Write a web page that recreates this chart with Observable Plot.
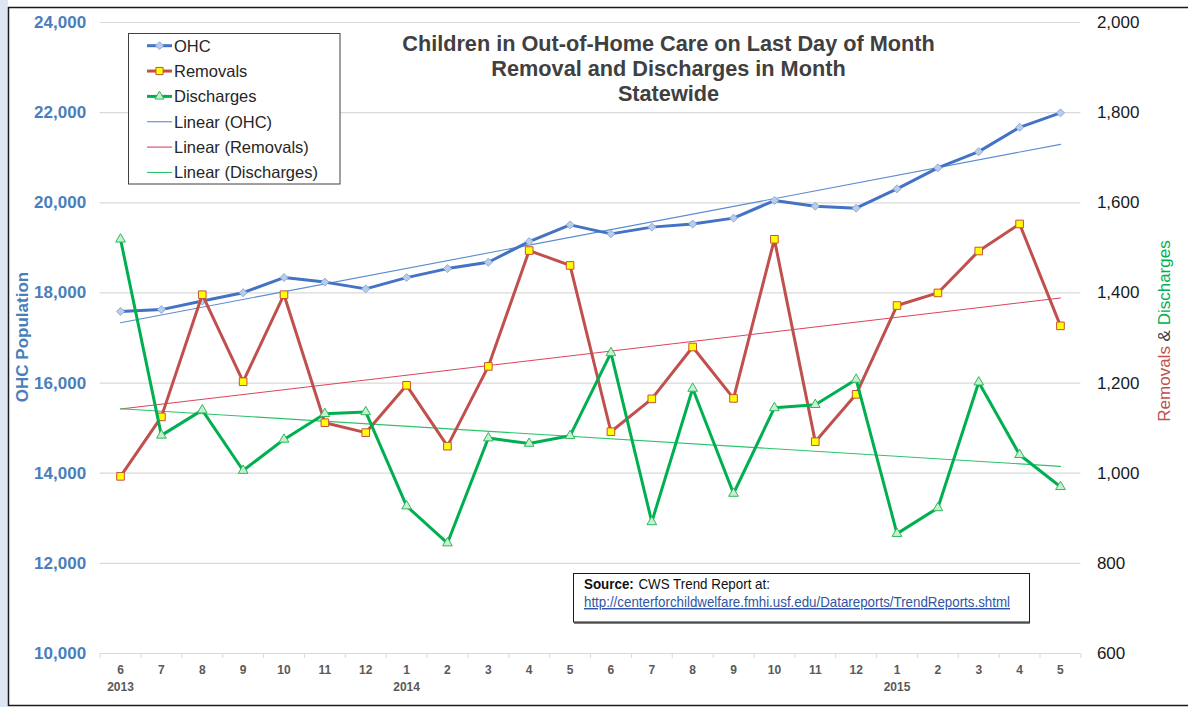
<!DOCTYPE html>
<html><head><meta charset="utf-8">
<script src="https://cdn.jsdelivr.net/npm/d3@7"></script>
<script src="https://cdn.jsdelivr.net/npm/@observablehq/plot@0.6"></script>
<style>
body{margin:0;background:#fff;}
#wrap{position:relative;width:1188px;height:707px;overflow:hidden;font-family:"Liberation Sans",Arial,sans-serif;background:#fff;}
#wrap svg{position:absolute;left:0;top:0;}
</style></head><body><div id="wrap"></div>
<script>
// ---- data ----
const months = [6,7,8,9,10,11,12,1,2,3,4,5,6,7,8,9,10,11,12,1,2,3,4,5];
const years = ["2013","","","","","","","2014","","","","","","","","","","","","2015","","","",""];
const ohc = [17590,17630,17820,18005,18340,18240,18090,18340,18540,18680,19140,19510,19310,19460,19530,19660,20050,19925,19880,20310,20775,21135,21675,21995];
const removals = [993,1125,1396,1203,1396,1112,1090,1195,1060,1237,1494,1461,1092,1165,1280,1166,1519,1070,1175,1372,1400,1493,1553,1327];
const discharges = [1519,1084,1140,1006,1075,1132,1136,927,845,1078,1066,1083,1267,892,1188,955,1145,1152,1208,866,923,1202,1041,970];
const leftTicks = [10000,12000,14000,16000,18000,20000,22000,24000];
const rightTicks = [600,800,1000,1200,1400,1600,1800,2000];
const titleLines = ["Children in Out-of-Home Care on Last Day of Month","Removal and Discharges in Month","Statewide"];
const legendItems = ["OHC","Removals","Discharges","Linear (OHC)","Linear (Removals)","Linear (Discharges)"];

// right axis (600..2000) shares the left scale (10,000..24,000)
const toLeft = v => 10000 + (v - 600) * 10;
const fromLeft = d => (d - 10000) / 10 + 600;

const rows = months.map((m, i) => ({i, ohc: ohc[i], rem: toLeft(removals[i]), dis: toLeft(discharges[i])}));
const idx = d3.range(months.length);
const bounds = d3.range(months.length + 1).map(k => k - 0.5);

const C = {
  ohc: "#4472C4", ohcFill: "#B9CDE8", ohcStroke: "#8FAADC", ohcTrend: "#5B8BD0",
  rem: "#C0504D", remFill: "#FFFF00", remStroke: "#C8503A", remTrend: "#D9455F",
  dis: "#00B050", disFill: "#C8F0D0", disStroke: "#2DB85C", disTrend: "#2CC46A"
};

const chart = Plot.plot({
  width: 1188, height: 707,
  marginLeft: 99.6, marginRight: 107.6, marginTop: 22, marginBottom: 54,
  x: {domain: [-0.5, 23.5]},
  y: {domain: [10000, 24000]},
  style: {fontFamily: '"Liberation Sans", Arial, sans-serif', background: "transparent", overflow: "visible"},
  marks: [
    Plot.gridY(leftTicks, {stroke: "#d9d9d9", strokeOpacity: 1, strokeWidth: 1.2}),
    Plot.axisX(bounds, {tickSize: 5, stroke: "#d9d9d9", strokeOpacity: 1, tickFormat: () => "", label: null}),
    Plot.axisX(idx, {tickSize: 0, tickPadding: 8, tickFormat: i => months[i] + (years[i] ? "\n" + years[i] : ""),
      fontSize: 12, fontWeight: "bold", color: "#595959", lineHeight: 1.45, label: null}),
    Plot.axisY(leftTicks, {anchor: "left", tickSize: 0, tickPadding: 14, tickFormat: d3.format(","),
      fontSize: 17, fontWeight: "bold", color: "#4A7EBB", label: null}),
    Plot.axisY(rightTicks.map(toLeft), {anchor: "right", tickSize: 0, tickPadding: 16, tickFormat: d => d3.format(",")(fromLeft(d)),
      fontSize: 17, color: "#1a1a1a", label: null}),
    Plot.linearRegressionY(rows, {x: "i", y: "ohc", stroke: C.ohcTrend, strokeWidth: 1.1, ci: 0}),
    Plot.linearRegressionY(rows, {x: "i", y: "rem", stroke: C.remTrend, strokeWidth: 1.1, ci: 0}),
    Plot.linearRegressionY(rows, {x: "i", y: "dis", stroke: C.disTrend, strokeWidth: 1.1, ci: 0}),
    Plot.line(rows, {x: "i", y: "ohc", stroke: C.ohc, strokeWidth: 3}),
    Plot.dot(rows, {x: "i", y: "ohc", symbol: "diamond2", r: 3.6, fill: C.ohcFill, stroke: C.ohcStroke, strokeWidth: 1}),
    Plot.line(rows, {x: "i", y: "rem", stroke: C.rem, strokeWidth: 3}),
    Plot.dot(rows, {x: "i", y: "rem", symbol: "square", r: 4.3, fill: C.remFill, stroke: C.remStroke, strokeWidth: 1}),
    Plot.line(rows, {x: "i", y: "dis", stroke: C.dis, strokeWidth: 3}),
    Plot.dot(rows, {x: "i", y: "dis", symbol: "triangle", r: 3.6, fill: C.disFill, stroke: C.disStroke, strokeWidth: 1})
  ]
});
const wrap = document.getElementById("wrap");
wrap.appendChild(chart);

// ---- overlay: frame, titles, legend, source box ----
const NS = "http://www.w3.org/2000/svg";
const ov = d3.select(wrap).append("svg").attr("xmlns", NS).attr("width", 1188).attr("height", 707)
  .style("font-family", '"Liberation Sans", Arial, sans-serif');

// outer frame
ov.append("rect").attr("x", 0).attr("y", 0).attr("width", 8).attr("height", 707).attr("fill", "#dde7f3");
ov.append("line").attr("x1", 8.5).attr("x2", 8.5).attr("y1", 7).attr("y2", 706).attr("stroke", "#1a1a1a").attr("stroke-width", 1.5);
ov.append("line").attr("x1", 8).attr("x2", 1188).attr("y1", 7.5).attr("y2", 7.5).attr("stroke", "#1a1a1a").attr("stroke-width", 1.5);
ov.append("line").attr("x1", 8).attr("x2", 1188).attr("y1", 705.5).attr("y2", 705.5).attr("stroke", "#1a1a1a").attr("stroke-width", 1.5);

// title
ov.append("g").selectAll("text").data(titleLines).join("text")
  .attr("x", 668.5).attr("y", (d, k) => 50.5 + k * 25)
  .attr("text-anchor", "middle").attr("font-size", 21.7).attr("font-weight", "bold").attr("fill", "#404040")
  .text(d => d);

// axis titles
ov.append("text").attr("transform", "translate(22,337) rotate(-90)")
  .attr("text-anchor", "middle").attr("dominant-baseline", "central")
  .attr("font-size", 17).attr("font-weight", "bold").attr("fill", "#4A7EBB").text("OHC Population");
const rt = ov.append("text").attr("transform", "translate(1164,331) rotate(-90)")
  .attr("text-anchor", "middle").attr("dominant-baseline", "central").attr("font-size", 17);
rt.append("tspan").attr("fill", C.rem).text("Removals ");
rt.append("tspan").attr("fill", "#404040").text("& ");
rt.append("tspan").attr("fill", C.dis).text("Discharges");

// legend
const lg = ov.append("g");
lg.append("rect").attr("x", 128.5).attr("y", 33.5).attr("width", 211.5).attr("height", 150.5)
  .attr("fill", "#fff").attr("stroke", "#404040").attr("stroke-width", 1);
const ly = k => 45.7 + k * 25.35;
const lsty = [
  {stroke: C.ohc, w: 3, sym: d3.symbolDiamond2, size: 40, fill: C.ohcFill, ms: C.ohcStroke},
  {stroke: C.rem, w: 3, sym: d3.symbolSquare, size: 52, fill: C.remFill, ms: C.remStroke},
  {stroke: C.dis, w: 3, sym: d3.symbolTriangle, size: 36, fill: C.disFill, ms: C.disStroke},
  {stroke: C.ohcTrend, w: 1.1},
  {stroke: C.remTrend, w: 1.1},
  {stroke: C.disTrend, w: 1.1}
];
legendItems.forEach((name, k) => {
  const s = lsty[k];
  lg.append("line").attr("x1", 147).attr("x2", 172).attr("y1", ly(k)).attr("y2", ly(k))
    .attr("stroke", s.stroke).attr("stroke-width", s.w);
  if (s.sym) lg.append("path").attr("d", d3.symbol(s.sym, s.size)()).attr("transform", `translate(159.5,${ly(k)})`)
    .attr("fill", s.fill).attr("stroke", s.ms).attr("stroke-width", 1);
  lg.append("text").attr("x", 174).attr("y", ly(k)).attr("dominant-baseline", "central")
    .attr("font-size", 16.5).attr("fill", "#262626").text(name);
});

// source box
const sb = ov.append("g");
sb.append("rect").attr("x", 574).attr("y", 575).attr("width", 456).attr("height", 49).attr("fill", "#808080");
sb.append("rect").attr("x", 573.5).attr("y", 573.5).attr("width", 456).attr("height", 48.5)
  .attr("fill", "#fff").attr("stroke", "#1a1a1a").attr("stroke-width", 1);
const s1 = sb.append("text").attr("x", 584).attr("y", 589).attr("font-size", 14.5).attr("fill", "#111")
  .attr("textLength", 186).attr("lengthAdjust", "spacingAndGlyphs")
  .style("font-family", '"Liberation Sans Narrow", "Liberation Sans", Arial, sans-serif');
s1.append("tspan").attr("font-weight", "bold").text("Source:");
s1.append("tspan").attr("dx", 5).text("CWS Trend Report at:");
sb.append("text").attr("x", 584).attr("y", 607).attr("font-size", 14.5).attr("fill", "#2F55A4")
  .attr("textLength", 426).attr("lengthAdjust", "spacingAndGlyphs")
  .attr("text-decoration", "underline")
  .style("font-family", '"Liberation Sans Narrow", "Liberation Sans", Arial, sans-serif')
  .text("http://centerforchildwelfare.fmhi.usf.edu/Datareports/TrendReports.shtml");
</script>
</body></html>
